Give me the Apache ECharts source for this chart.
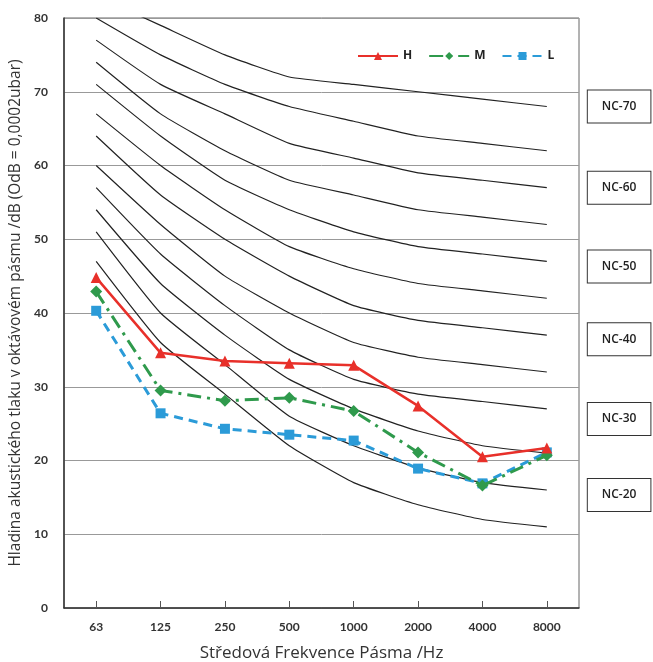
<!DOCTYPE html>
<html>
<head>
<meta charset="utf-8">
<script src="https://cdn.jsdelivr.net/npm/echarts@6/dist/echarts.min.js"></script>
<style>html,body{margin:0;padding:0;background:#fff}#c{width:653px;height:662px}</style>
</head>
<body>
<div id="c"></div>
<script>
const categories = ['63','125','250','500','1000','2000','4000','8000'];
const yTicks = [0,10,20,30,40,50,60,70,80];
// NC curves (standard Noise Criterion values)
const nc15 = [47,36,29,22,17,14,12,11];
const nc20 = [51,40,33,26,22,19,17,16];
const nc25 = [54,44,37,31,27,24,22,21];
const nc30 = [57,48,41,35,31,29,28,27];
const nc35 = [60,52,45,40,36,34,33,32];
const nc40 = [64,56,50,45,41,39,38,37];
const nc45 = [67,60,54,49,46,44,43,42];
const nc50 = [71,64,58,54,51,49,48,47];
const nc55 = [74,67,62,58,56,54,53,52];
const nc60 = [77,71,67,63,61,59,58,57];
const nc65 = [80,75,71,68,66,64,63,62];
const nc70 = [83,79,75,72,71,70,69,68];
// measured series
const seriesH = [44.8,34.6,33.5,33.2,32.9,27.4,20.5,21.7];
const seriesM = [42.9,29.5,28.1,28.5,26.7,21.1,16.6,20.7];
const seriesL = [40.3,26.4,24.3,23.5,22.7,18.9,16.9,21.1];

const ncCurves = [
  {name:'NC-15', data:nc15, label:false},
  {name:'NC-20', data:nc20, label:true},
  {name:'NC-25', data:nc25, label:false},
  {name:'NC-30', data:nc30, label:true},
  {name:'NC-35', data:nc35, label:false},
  {name:'NC-40', data:nc40, label:true},
  {name:'NC-45', data:nc45, label:false},
  {name:'NC-50', data:nc50, label:true},
  {name:'NC-55', data:nc55, label:false},
  {name:'NC-60', data:nc60, label:true},
  {name:'NC-65', data:nc65, label:false},
  {name:'NC-70', data:nc70, label:true}
];
const ncLabelOffsets = {'NC-20':5,'NC-30':10,'NC-40':4,'NC-50':5,'NC-60':0,'NC-70':0};

const chart = echarts.init(document.getElementById('c'), null, {renderer:'canvas'});

const ncSeries = ncCurves.map(c => ({
  type:'line', name:c.name, data:c.data, symbol:'none', silent:true, clip:true,
  smooth:0.15, z:1,
  lineStyle:{color:'#222', width:1.2},
  endLabel: c.label ? {
    show:true, formatter:c.name, distance:41, offset:[0, ncLabelOffsets[c.name]],
    backgroundColor:'#fff', borderColor:'#333', borderWidth:1,
    padding:[10,14,10,14], fontSize:12, color:'#222', fontFamily:'Open Sans',
    fontWeight:600
  } : {show:false}
}));

chart.setOption({
  animation:false,
  backgroundColor:'#fff',
  grid:{left:64, top:18, width:515, height:590, show:true, borderColor:'#666', borderWidth:1,
    backgroundColor:'transparent', containLabel:false, outerBoundsMode:'none'},
  legend:{
    data:['H','M','L'], left:352, top:45, itemWidth:40, itemHeight:10, itemGap:16,
    textStyle:{fontSize:12, fontWeight:'bold', color:'#222', fontFamily:'Open Sans'}
  },
  xAxis:{
    type:'category', data:categories, boundaryGap:true,
    name:'Středová Frekvence Pásma /Hz', nameLocation:'middle', nameGap:37,
    nameTextStyle:{fontSize:17, color:'#333', fontFamily:'Open Sans'},
    axisLine:{lineStyle:{color:'#333', width:1.5}},
    axisTick:{show:true, inside:true, alignWithLabel:true, length:7, lineStyle:{color:'#555'}},
    axisLabel:{fontSize:12, color:'#333', margin:13, fontFamily:'Lato', fontWeight:'bold'},
    splitLine:{show:false}
  },
  yAxis:{
    type:'value', min:yTicks[0], max:yTicks[yTicks.length-1], interval:10,
    name:'Hladina akustického tlaku v oktávovém pásmu /dB (OdB = 0,0002ubar)',
    nameLocation:'middle', nameGap:38,
    nameTextStyle:{fontSize:15.5, color:'#333', fontFamily:'Open Sans'},
    axisLine:{show:true, lineStyle:{color:'#333', width:1.5}},
    axisTick:{show:false},
    axisLabel:{fontSize:12, color:'#333', margin:16, fontFamily:'Lato', fontWeight:'bold'},
    splitLine:{show:true, lineStyle:{color:'#999', width:1}}
  },
  series: ncSeries.concat([
    {type:'line', name:'H', data:seriesH, z:5, symbol:'triangle', symbolSize:11,
      lineStyle:{color:'#e8302a', width:2.5}, itemStyle:{color:'#e8302a'}},
    {type:'line', name:'M', data:seriesM, z:4, symbol:'diamond', symbolSize:12,
      lineStyle:{color:'#2f9a4c', width:3, type:[14,6,3,6]}, itemStyle:{color:'#2f9a4c'}},
    {type:'line', name:'L', data:seriesL, z:3, symbol:'rect', symbolSize:10,
      lineStyle:{color:'#2b9bd8', width:3, type:[9,6]}, itemStyle:{color:'#2b9bd8'}}
  ])
});
</script>
</body>
</html>
